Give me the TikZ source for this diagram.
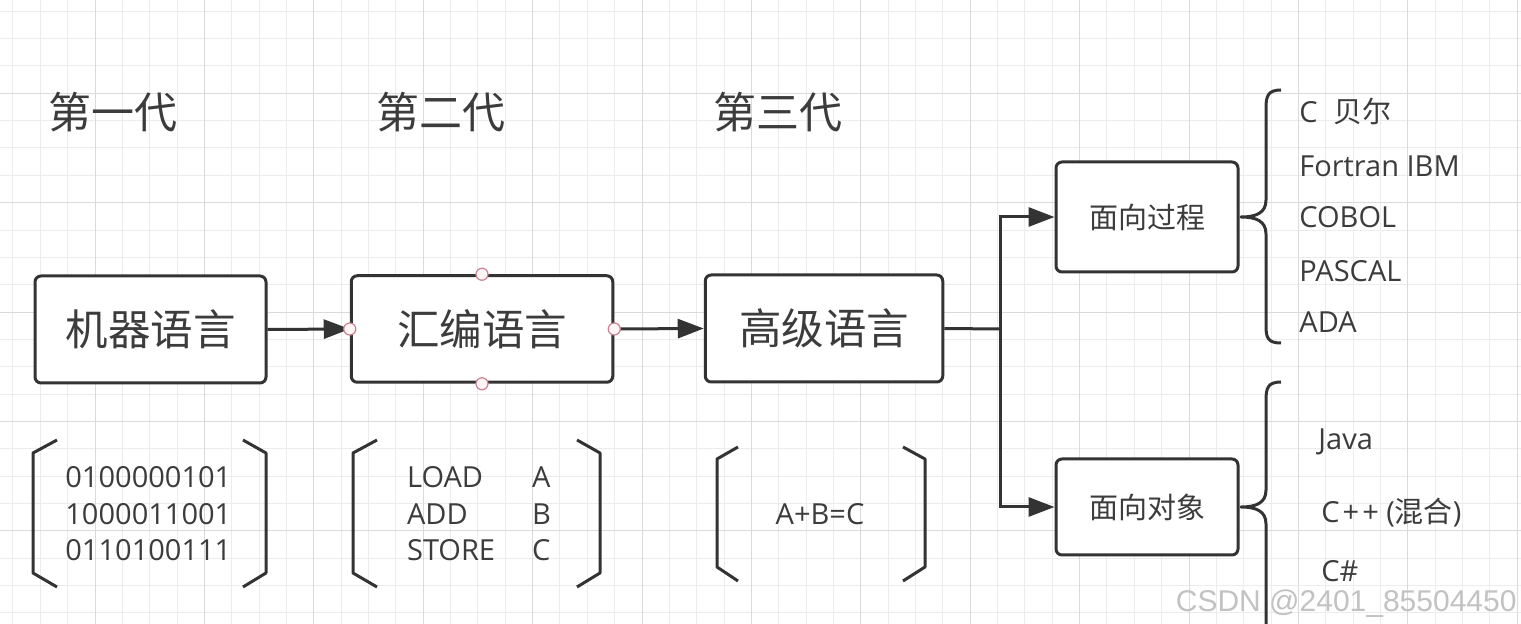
\documentclass[tikz,border=0pt]{standalone}
\usepackage{fontspec}
\setmainfont{Open Sans}
\newfontfamily\cjk{Noto Sans CJK SC}
\newfontfamily\wmfont{Liberation Sans}
\usetikzlibrary{arrows.meta}
\definecolor{ink}{HTML}{333333}
\definecolor{txt}{HTML}{3C3C3C}
\definecolor{gridminor}{HTML}{ECECEC}
\definecolor{gridmajor}{HTML}{DADADA}
\definecolor{portline}{HTML}{C98393}
\definecolor{portfill}{HTML}{FFF4F6}
\definecolor{wm}{HTML}{C2C2C2}
\begin{document}
\begin{tikzpicture}[x=0.5pt,y=-0.5pt,
  stage/.style={draw=ink, line width=1.5pt, rounded corners=3pt, fill=white,
    inner sep=0pt, text=txt, font=\cjk\fontsize{21.25}{24}\selectfont},
  kind/.style={draw=ink, line width=1.5pt, rounded corners=3pt, fill=white,
    inner sep=0pt, text=txt, font=\cjk\fontsize{14.5}{17}\selectfont,
    minimum width=91pt},
  title/.style={inner sep=0pt, text=txt, font=\cjk\fontsize{21.5}{24}\selectfont},
  conn/.style={draw=ink, line width=1.5pt},
  tip/.style={-{Triangle[length=13pt,width=9.5pt]}},
  port/.style={circle, draw=portline, fill=portfill, line width=0.6pt,
    minimum size=6pt, inner sep=0pt},
  bracket/.style={draw=ink, line width=1.5pt, line join=round},
  code/.style={inner sep=0pt, anchor=west, align=left, text=txt,
    font=\fontsize{14.5}{18.25}\selectfont},
  item/.style={inner sep=0pt, anchor=base west, text=txt,
    font=\fontsize{14.5}{17}\selectfont},
  gridline/.style={line width=0.5pt}]

\useasboundingbox (0,0) rectangle (1521,624);
\fill[white] (0,0) rectangle (1521,624);

% background grid: fine lines every cell, stronger lines every fourth cell
\begin{scope}
  \clip (0,0) rectangle (1521,624);
  \foreach \k in {0,...,55} {
    \pgfmathsetmacro\gx{12.95+27.35*\k}
    \draw[gridline, gridminor] (\gx,0) -- (\gx,624);
  }
  \foreach \k in {0,...,22} {
    \pgfmathsetmacro\gy{11.25+27.35*\k}
    \draw[gridline, gridminor] (0,\gy) -- (1521,\gy);
  }
  \foreach \k in {3,7,...,55} {
    \pgfmathsetmacro\gx{12.95+27.35*\k}
    \draw[gridline, gridmajor] (\gx,0) -- (\gx,624);
  }
  \foreach \k in {3,7,...,22} {
    \pgfmathsetmacro\gy{11.25+27.35*\k}
    \draw[gridline, gridmajor] (0,\gy) -- (1521,\gy);
  }
\end{scope}

% generation headings
\node[title] (g1) at (113,112) {第一代};
\node[title] (g2) at (440.5,112) {第二代};
\node[title] (g3) at (778,112) {第三代};

% the three language levels
\node[stage, minimum width=115.5pt, minimum height=53.5pt] (b1) at (150.5,329.5) {机器语言};
\node[stage, minimum width=130.75pt, minimum height=53.25pt] (b2) at (482,329) {汇编语言};
\node[stage, minimum width=118.75pt, minimum height=53.5pt] (b3) at (824,328.5) {高级语言};

% the two paradigms
\node[kind, minimum height=55pt] (p1) at (1147,217) {面向过程};
\node[kind, minimum height=48pt] (p2) at (1147,507) {面向对象};

% connectors
\coordinate (split) at (1000,329);
\draw[conn, tip] (b1.east) -- (b2.west);
\draw[conn, tip] (b2.east) -- (b3.west);
\draw[conn] (b3.east) -- (split);
\draw[conn, tip] (split) |- (p1.west);
\draw[conn, tip] (split) |- (p2.west);

% connection points on the selected box
\node[port] (b2n) at (b2.north) {};
\node[port] (b2s) at (b2.south) {};
\node[port] (b2w) at (b2.west) {};
\node[port] (b2e) at (b2.east) {};

% square brackets with examples
\draw[bracket] (57,440) -- (33,453) -- (33,573) -- (57,587);
\draw[bracket] (243,440) -- (266,453) -- (266,573) -- (243,587);
\node[code] (c1) at (65,514) {0100000101\\1000011001\\0110100111};

\draw[bracket] (377,440) -- (353,453) -- (353,573) -- (377,587);
\draw[bracket] (577,440) -- (600,453) -- (600,573) -- (577,587);
\node[code] (c2) at (406.7,514) {\makebox[62.5pt][l]{LOAD}A\\\makebox[62.5pt][l]{ADD}B\\\makebox[62.5pt][l]{STORE}C};

\draw[bracket] (738,447) -- (717,459) -- (717,567) -- (738,581);
\draw[bracket] (903,447) -- (925,459) -- (925,567) -- (903,581);
\node[code, anchor=center] (c3) at (820,514) {A+B=C};

% curly braces grouping the languages
\draw[bracket] (1281,90) .. controls (1268,90) and (1266,96) .. (1266,108)
  -- (1266,200) .. controls (1266,213) and (1256,217) .. (1241,217)
  .. controls (1256,217) and (1266,221) .. (1266,234)
  -- (1266,326) .. controls (1266,338) and (1268,343) .. (1281,343);
\draw[bracket] (1281,382) .. controls (1268,382) and (1266,388) .. (1266,400)
  -- (1266,490) .. controls (1266,503) and (1256,507) .. (1241,507)
  .. controls (1256,507) and (1266,511) .. (1266,524)
  -- (1266,630);

% procedural languages
\node[item] (l1) at (1299,123) {C\hspace{8pt}{\cjk 贝尔}};
\node[item] (l2) at (1299,177) {Fortran IBM};
\node[item] (l3) at (1299,228) {COBOL};
\node[item] (l4) at (1299,282) {PASCAL};
\node[item] (l5) at (1299,333) {ADA};

% object-oriented languages
\node[item] (o1) at (1318,450) {Java};
\node[item] (o2) at (1321,523) {C\kern1.5pt+\kern1.5pt+ ({\cjk 混合})};
\node[item] (o3) at (1321,582) {C\#};

% author mark
\node[inner sep=0pt, anchor=east, text=wm, font=\wmfont\fontsize{15}{18}\selectfont]
  (mark) at (1517,604) {CSDN @2401\_85504450};
\end{tikzpicture}
\end{document}
